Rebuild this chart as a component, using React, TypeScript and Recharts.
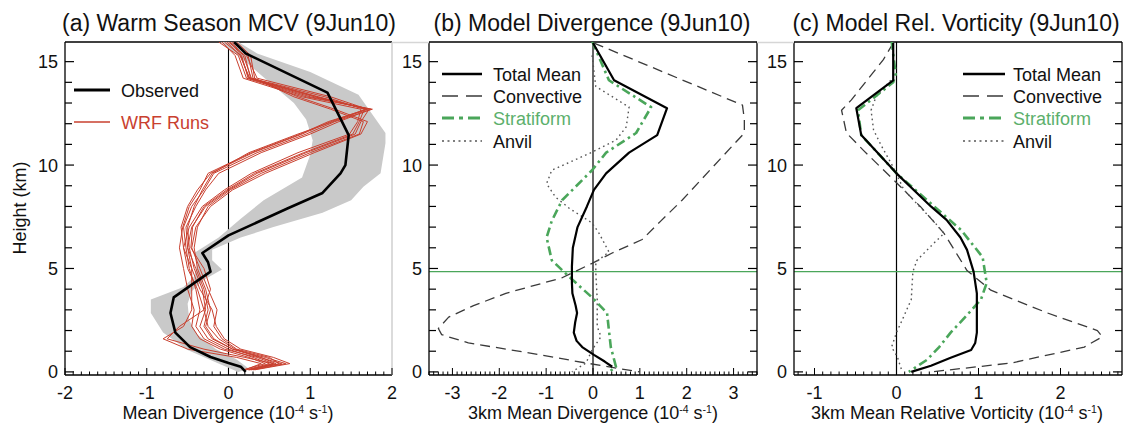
import React from "react";
import { ScatterChart, Scatter, XAxis, YAxis, ReferenceLine } from "recharts";

const FONT = '"Liberation Sans", Arial, Helvetica, sans-serif';
const INK = "#111";
const RED = "#c9402f";
const GREEN = "#4aa65a";
const GREEN_TEXT = "#5cb06c";
const GRAY_BAND = "#c9c9c9";

// ---------- (a) Warm season MCV: observed divergence profile ----------
const obsHeight = [15.95, 15.4, 13.5, 12.4, 11.45, 10.0, 9.6, 8.65, 7.9, 6.6, 5.75, 5.3, 4.85, 4.35, 3.6, 2.85, 1.9, 1.2, 0.72, 0.43, 0.25, 0.0];
const obsDiv = [0.07, 0.21, 1.21, 1.35, 1.47, 1.43, 1.37, 1.15, 0.72, 0.0, -0.32, -0.25, -0.22, -0.4, -0.67, -0.71, -0.65, -0.47, -0.22, 0.0, 0.15, 0.21];

// observational spread: right edge (top to bottom), then left edge (bottom to top)
const bandRightHeight = [15.95, 15.4, 14.5, 13.4, 11.55, 11.05, 9.6, 8.95, 8.3, 7.7, 7.0, 6.5, 5.9, 5.4, 4.95, 4.45, 3.9, 3.3, 2.5, 1.8, 1.1, 0.6, 0.15];
const bandRightDiv = [0.12, 0.35, 1.0, 1.59, 1.92, 1.92, 1.86, 1.65, 1.5, 1.15, 0.55, 0.15, -0.2, -0.2, -0.08, -0.3, -0.45, -0.5, -0.48, -0.38, -0.15, 0.1, 0.25];
const bandLeftHeight = [0.0, 0.45, 1.06, 1.9, 2.85, 3.5, 4.1, 4.6, 5.2, 5.75, 6.5, 7.4, 8.3, 9.4, 10.5, 11.2, 12.2, 13.0, 14.0, 15.2, 15.95];
const bandLeftDiv = [0.12, -0.15, -0.5, -0.8, -0.95, -0.95, -0.55, -0.42, -0.38, -0.42, -0.12, 0.15, 0.43, 0.9, 1.0, 1.03, 0.95, 0.8, 0.5, 0.15, -0.1];

// WRF ensemble members
const wrfHeight = [15.95, 15.3, 14.2, 13.3, 12.7, 12.1, 11.5, 10.6, 9.6, 8.8, 8.0, 7.0, 6.0, 5.0, 4.0, 3.0, 2.2, 1.6, 1.1, 0.7, 0.4, 0.1];
const wrfRun1 = [-0.12, 0.12, 0.22, 0.95, 1.76, 1.3, 0.95, 0.35, -0.18, -0.3, -0.45, -0.55, -0.52, -0.48, -0.4, -0.35, -0.4, -0.3, -0.05, 0.35, 0.55, 0.25];
const wrfRun2 = [-0.05, 0.15, 0.25, 1.05, 1.72, 1.62, 1.55, 0.95, 0.35, 0.0, -0.28, -0.45, -0.5, -0.4, -0.3, -0.25, -0.3, -0.2, 0.05, 0.45, 0.7, 0.3];
const wrfRun3 = [0.0, 0.2, 0.27, 1.1, 1.68, 1.25, 0.9, 0.3, -0.22, -0.38, -0.5, -0.58, -0.55, -0.45, -0.45, -0.45, -0.55, -0.8, -0.5, 0.1, 0.4, 0.2];
const wrfRun4 = [0.05, 0.24, 0.3, 0.85, 1.3, 1.7, 1.62, 1.05, 0.45, 0.05, -0.22, -0.4, -0.45, -0.35, -0.25, -0.14, -0.18, -0.08, 0.1, 0.5, 0.62, 0.28];
const wrfRun5 = [0.08, 0.22, 0.35, 1.25, 1.7, 1.28, 0.85, 0.25, -0.2, -0.32, -0.42, -0.5, -0.48, -0.42, -0.32, -0.28, -0.35, -0.25, 0.0, 0.3, 0.5, 0.22];
const wrfRun6 = [-0.08, 0.08, 0.18, 0.9, 1.62, 1.58, 1.48, 0.85, 0.28, -0.05, -0.32, -0.48, -0.55, -0.5, -0.38, -0.3, -0.25, -0.12, 0.08, 0.4, 0.58, 0.27];
const wrfRun7 = [0.02, 0.16, 0.24, 1.0, 1.74, 1.35, 1.0, 0.4, -0.12, -0.28, -0.4, -0.52, -0.5, -0.45, -0.35, -0.2, -0.15, -0.05, 0.15, 0.55, 0.75, 0.32];
const wrfRun8 = [0.1, 0.27, 0.32, 0.8, 1.25, 1.65, 1.6, 1.0, 0.4, 0.02, -0.25, -0.38, -0.42, -0.38, -0.28, -0.22, -0.28, -0.18, 0.05, 0.38, 0.65, 0.25];
const wrfRun9 = [-0.02, 0.14, 0.26, 1.08, 1.7, 1.22, 0.88, 0.28, -0.25, -0.35, -0.48, -0.56, -0.6, -0.55, -0.5, -0.42, -0.45, -0.35, -0.1, 0.25, 0.45, 0.18];
const wrfRun10 = [0.04, 0.18, 0.28, 1.18, 1.66, 1.6, 1.52, 0.92, 0.32, -0.02, -0.3, -0.44, -0.46, -0.3, -0.22, -0.3, -0.6, -0.75, -0.3, 0.2, 0.55, 0.24];
const wrfRuns = [wrfRun1, wrfRun2, wrfRun3, wrfRun4, wrfRun5, wrfRun6, wrfRun7, wrfRun8, wrfRun9, wrfRun10];

// ---------- (b) Model divergence, 3 km mean ----------
const divTotalHeight = [15.9, 14.1, 12.75, 11.45, 10.6, 9.6, 8.8, 8.0, 7.0, 6.0, 5.1, 4.3, 3.8, 3.2, 2.85, 2.4, 1.9, 1.5, 1.2, 0.82, 0.5, 0.25];
const divTotal = [0.0, 0.45, 1.58, 1.37, 0.77, 0.28, 0.02, -0.13, -0.33, -0.43, -0.45, -0.45, -0.44, -0.37, -0.34, -0.38, -0.41, -0.35, -0.23, 0.02, 0.25, 0.41];
const divConvHeight = [15.9, 12.9, 12.2, 11.55, 8.3, 7.3, 6.4, 5.75, 5.25, 4.55, 3.8, 3.2, 2.65, 2.1, 1.8, 1.4, 0.92, 0.43, 0.0];
const divConv = [0.02, 3.19, 3.23, 3.23, 1.9, 1.45, 1.05, 0.41, -0.02, -0.66, -1.86, -2.55, -3.08, -3.3, -3.23, -2.66, -1.37, -0.15, 0.99];
const divStratHeight = [16.0, 14.1, 12.8, 11.55, 10.6, 9.75, 8.3, 7.3, 6.5, 5.4, 4.6, 3.6, 2.85, 2.0, 1.2, 0.6, 0.25, 0.0];
const divStrat = [-0.02, 0.34, 1.24, 0.92, 0.28, -0.02, -0.66, -0.88, -0.99, -0.88, -0.51, -0.02, 0.3, 0.34, 0.38, 0.45, 0.49, 0.34];
const divAnvilHeight = [15.3, 13.8, 12.8, 11.85, 11.2, 10.55, 9.75, 9.1, 8.45, 7.9, 7.2, 6.7, 5.8, 5.3, 4.8, 3.5, 2.2, 1.7, 1.06, 0.43, 0.0];
const divAnvil = [-0.02, 0.06, 0.77, 0.71, 0.49, -0.09, -0.88, -0.99, -0.8, -0.5, -0.02, 0.13, 0.34, 0.06, 0.06, 0.09, 0.09, 0.17, -0.02, -0.15, -0.45];

// ---------- (c) Model relative vorticity, 3 km mean ----------
const vortTotalHeight = [15.9, 14.1, 12.75, 11.45, 9.6, 8.0, 7.35, 6.5, 5.9, 4.85, 3.8, 1.9, 1.4, 1.06, 0.68, 0.3, 0.0];
const vortTotal = [-0.04, -0.04, -0.49, -0.43, 0.0, 0.42, 0.61, 0.78, 0.86, 0.94, 0.98, 0.98, 0.96, 0.91, 0.66, 0.42, 0.18];
const vortConvHeight = [15.9, 15.1, 13.15, 12.65, 11.55, 10.7, 9.3, 8.0, 6.7, 4.9, 3.95, 2.85, 2.0, 1.7, 1.2, 0.43, 0.0];
const vortConv = [-0.04, -0.16, -0.55, -0.67, -0.61, -0.4, -0.04, 0.29, 0.58, 0.86, 1.15, 1.84, 2.45, 2.51, 2.29, 1.4, 0.42];
const vortStratHeight = [16.0, 14.4, 14.0, 12.65, 11.45, 9.6, 8.0, 6.85, 5.55, 4.3, 3.5, 2.7, 1.9, 1.2, 0.58, 0.0];
const vortStrat = [-0.06, -0.01, -0.04, -0.47, -0.43, 0.0, 0.46, 0.79, 1.05, 1.1, 1.03, 0.85, 0.66, 0.52, 0.37, 0.15];
const vortAnvilHeight = [14.1, 13.3, 12.65, 11.7, 10.9, 9.9, 8.8, 8.0, 7.3, 6.7, 6.2, 5.4, 4.85, 3.5, 2.6, 1.9, 1.2, 0.73, 0.0];
const vortAnvil = [-0.07, -0.25, -0.31, -0.28, -0.18, -0.04, 0.09, 0.28, 0.45, 0.58, 0.45, 0.25, 0.2, 0.18, 0.08, 0.0, -0.06, 0.01, 0.07];

// melting-level marker height (km)
const meltingLevel = 4.85;

// axes
const heightDomain: [number, number] = [-0.15, 15.95];
const heightTicks = [0, 1, 2, 3, 4, 5, 6, 7, 8, 9, 10, 11, 12, 13, 14, 15];
const heightLabels = [0, 5, 10, 15];
const divLabelsA = [-2, -1, 0, 1, 2];
const divLabelsB = [-3, -2, -1, 0, 1, 2, 3];
const vortLabelsC = [-1, 0, 1, 2];

const pts = (xs: number[], hs: number[]) => xs.map((x, i) => ({ x, y: hs[i] }));
const tenths = (lo: number, hi: number) => {
  const out: number[] = [];
  for (let k = Math.ceil(lo * 10 - 1e-6); k <= Math.floor(hi * 10 + 1e-6); k++) out.push(k / 10);
  return out;
};

const NoDot = () => null;
const AXIS_LINE = { stroke: "#000", strokeWidth: 1.3 };

const makeBottomTick = (labels: number[]) => (p: any) => {
  const v = p.payload.value;
  const major = labels.includes(v);
  return (
    <g>
      <line x1={p.x} x2={p.x} y1={p.y} y2={p.y - (major ? 7 : 3.5)} stroke="#000" strokeWidth={1} />
      {major && (
        <text x={p.x} y={p.y + 24} textAnchor="middle" fontSize={18} fontFamily={FONT} fill={INK}>
          {v}
        </text>
      )}
    </g>
  );
};

const makeTopTick = (labels: number[]) => (p: any) => {
  const major = labels.includes(p.payload.value);
  return <line x1={p.x} x2={p.x} y1={p.y} y2={p.y + (major ? 7 : 3.5)} stroke="#000" strokeWidth={1} />;
};

const LeftTick = (p: any) => {
  const v = p.payload.value;
  const major = heightLabels.includes(v);
  return (
    <g>
      <line x1={p.x} x2={p.x + (major ? 9 : 7)} y1={p.y} y2={p.y} stroke="#000" strokeWidth={1.2} />
      {major && (
        <text x={p.x - 7} y={p.y} dy="0.36em" textAnchor="end" fontSize={18} fontFamily={FONT} fill={INK}>
          {v}
        </text>
      )}
    </g>
  );
};

const RightTick = (p: any) => {
  const major = heightLabels.includes(p.payload.value);
  return <line x1={p.x} x2={p.x - (major ? 9 : 7)} y1={p.y} y2={p.y} stroke="#000" strokeWidth={1.2} />;
};

type PanelProps = {
  left: number;
  width: number;
  plotLeft: number;
  plotRight: number;
  xDomain: [number, number];
  xLabels: number[];
  framedRight: boolean;
  children: React.ReactNode;
};

// plot area spans y 42..375 inside a 425px tall chart; each axis is 1px thick
function Panel({ left, width, plotLeft, plotRight, xDomain, xLabels, framedRight, children }: PanelProps) {
  const xTicks = tenths(xDomain[0], xDomain[1]);
  return (
    <div style={{ position: "absolute", left, top: 0 }}>
      <ScatterChart
        width={width}
        height={425}
        margin={{ top: 41, bottom: 49, left: plotLeft - left - 1, right: left + width - plotRight - 1 }}
      >
        <XAxis
          xAxisId={0}
          type="number"
          dataKey="x"
          domain={xDomain}
          allowDataOverflow
          ticks={xTicks}
          interval={0}
          height={1}
          tickSize={0}
          tickMargin={0}
          tickLine={false}
          axisLine={AXIS_LINE}
          tick={makeBottomTick(xLabels)}
        />
        <XAxis
          xAxisId="top"
          orientation="top"
          type="number"
          domain={xDomain}
          allowDataOverflow
          ticks={xTicks}
          interval={0}
          height={1}
          tickSize={0}
          tickMargin={0}
          tickLine={false}
          axisLine={AXIS_LINE}
          tick={makeTopTick(xLabels)}
        />
        <YAxis
          yAxisId={0}
          type="number"
          dataKey="y"
          domain={heightDomain}
          allowDataOverflow
          ticks={heightTicks}
          interval={0}
          width={1}
          tickSize={0}
          tickMargin={0}
          tickLine={false}
          axisLine={AXIS_LINE}
          tick={LeftTick}
        />
        <YAxis
          yAxisId="right"
          orientation="right"
          type="number"
          domain={heightDomain}
          allowDataOverflow
          ticks={heightTicks}
          interval={0}
          width={1}
          tickSize={0}
          tickMargin={0}
          tickLine={false}
          axisLine={framedRight ? AXIS_LINE : { stroke: "#c8c8c8", strokeWidth: 1.3 }}
          tick={framedRight ? RightTick : false}
        />
        {children}
      </ScatterChart>
    </div>
  );
}

const profile = (
  key: string,
  xs: number[],
  hs: number[],
  stroke: string,
  strokeWidth: number,
  dash?: string
) => (
  <Scatter
    key={key}
    data={pts(xs, hs)}
    shape={NoDot}
    line={{ stroke, strokeWidth, strokeDasharray: dash, fill: "none", strokeLinejoin: "round" }}
    isAnimationActive={false}
  />
);

const CONV_DASH = "10 6";
const STRAT_DASH = "9 4 2.5 4";
const ANVIL_DASH = "1.6 3.4";
const CONV_COLOR = "#3a3a3a";
const ANVIL_COLOR = "#555";

function Units({ prefix }: { prefix: string }) {
  return (
    <>
      {prefix} (10
      <tspan dy={-6} fontSize={10.5}>
        -4
      </tspan>
      <tspan dy={6}> s</tspan>
      <tspan dy={-6} fontSize={10.5}>
        -1
      </tspan>
      <tspan dy={6}>)</tspan>
    </>
  );
}

type Sample = { label: string; color: string; width: number; dash?: string; textColor?: string };

function LegendBlock({ x, textX, ys, items }: { x: [number, number]; textX: number; ys: number[]; items: Sample[] }) {
  return (
    <g>
      {items.map((it, i) => (
        <g key={it.label}>
          <line x1={x[0]} x2={x[1]} y1={ys[i]} y2={ys[i]} stroke={it.color} strokeWidth={it.width} strokeDasharray={it.dash} />
          <text x={textX} y={ys[i] + 7} fontSize={18} fontFamily={FONT} fill={it.textColor || INK}>
            {it.label}
          </text>
        </g>
      ))}
    </g>
  );
}

const modelLegend: Sample[] = [
  { label: "Total Mean", color: "#000", width: 2.6 },
  { label: "Convective", color: CONV_COLOR, width: 1.3, dash: "16 8" },
  { label: "Stratiform", color: GREEN, width: 3, dash: "12 5 4 5", textColor: GREEN_TEXT },
  { label: "Anvil", color: ANVIL_COLOR, width: 1.5, dash: "2 3.5" },
];

export default function App() {
  const band = [...pts(bandRightDiv, bandRightHeight), ...pts(bandLeftDiv, bandLeftHeight)];
  return (
    <div style={{ position: "absolute", left: 0, top: 0, width: 1127, height: 425, background: "#fff", overflow: "hidden" }}>
      <Panel left={0} width={400} plotLeft={65} plotRight={392} xDomain={[-2, 2]} xLabels={divLabelsA} framedRight={false}>
        <Scatter
          key="band"
          data={band}
          shape={NoDot}
          line={{ stroke: "none", fill: GRAY_BAND }}
          isAnimationActive={false}
        />
        <ReferenceLine key="zero" x={0} stroke="#000" strokeWidth={1.1} />
        {wrfRuns.map((run, i) => profile(`wrf${i}`, run, wrfHeight, RED, 1))}
        {profile("obs", obsDiv, obsHeight, "#000", 2.6)}
      </Panel>

      <Panel left={400} width={365} plotLeft={429} plotRight={757} xDomain={[-3.5, 3.5]} xLabels={divLabelsB} framedRight>
        <ReferenceLine key="zero" x={0} stroke="#000" strokeWidth={1.2} />
        <ReferenceLine key="melt" y={meltingLevel} stroke={GREEN} strokeWidth={1.4} />
        {profile("conv", divConv, divConvHeight, CONV_COLOR, 1.3, CONV_DASH)}
        {profile("anvil", divAnvil, divAnvilHeight, ANVIL_COLOR, 1.4, ANVIL_DASH)}
        {profile("strat", divStrat, divStratHeight, GREEN, 2.6, STRAT_DASH)}
        {profile("total", divTotal, divTotalHeight, "#000", 2.2)}
      </Panel>

      <Panel left={765} width={362} plotLeft={794} plotRight={1122} xDomain={[-1.25, 2.75]} xLabels={vortLabelsC} framedRight>
        <ReferenceLine key="zero" x={0} stroke="#000" strokeWidth={1.2} />
        <ReferenceLine key="melt" y={meltingLevel} stroke={GREEN} strokeWidth={1.4} />
        {profile("conv", vortConv, vortConvHeight, CONV_COLOR, 1.3, CONV_DASH)}
        {profile("anvil", vortAnvil, vortAnvilHeight, ANVIL_COLOR, 1.4, ANVIL_DASH)}
        {profile("strat", vortStrat, vortStratHeight, GREEN, 2.6, STRAT_DASH)}
        {profile("total", vortTotal, vortTotalHeight, "#000", 2.2)}
      </Panel>

      <svg width={1127} height={425} style={{ position: "absolute", left: 0, top: 0, pointerEvents: "none" }}>
        <line x1={392} x2={429} y1={42.5} y2={42.5} stroke="#d6d6d6" strokeWidth={1.5} />
        <line x1={757} x2={794} y1={42.5} y2={42.5} stroke="#d6d6d6" strokeWidth={1.5} />

        <g fontFamily={FONT} fill={INK} fontSize={23} textAnchor="middle">
          <text x={229} y={31}>(a) Warm Season MCV (9Jun10)</text>
          <text x={592} y={31}>(b) Model Divergence (9Jun10)</text>
          <text x={956} y={31}>(c) Model Rel. Vorticity (9Jun10)</text>
        </g>

        <g fontFamily={FONT} fill={INK} fontSize={18} textAnchor="middle">
          <text x={228} y={419}>
            <Units prefix="Mean Divergence" />
          </text>
          <text x={593} y={419}>
            <Units prefix="3km Mean Divergence" />
          </text>
          <text x={957} y={419}>
            <Units prefix="3km Mean Relative Vorticity" />
          </text>
          <text x={26} y={208} transform="rotate(-90 26 208)">
            Height (km)
          </text>
        </g>

        <LegendBlock
          x={[74, 110]}
          textX={121}
          ys={[90, 122]}
          items={[
            { label: "Observed", color: "#000", width: 3 },
            { label: "WRF Runs", color: RED, width: 1.5, textColor: RED },
          ]}
        />
        <LegendBlock x={[442, 482]} textX={493} ys={[74, 96, 118, 141]} items={modelLegend} />
        <LegendBlock x={[963, 1005]} textX={1013} ys={[74, 96, 118, 141]} items={modelLegend} />
      </svg>
    </div>
  );
}
